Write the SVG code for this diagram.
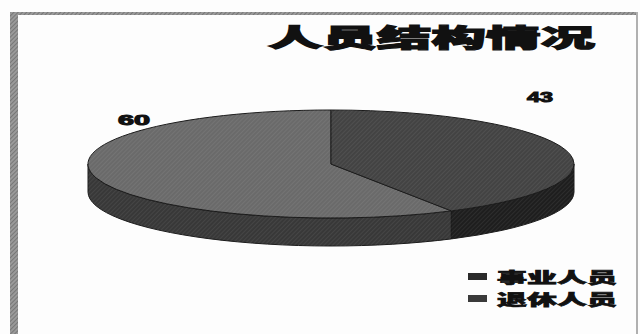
<svg xmlns="http://www.w3.org/2000/svg" width="640" height="334" viewBox="0 0 640 334">
<defs>
<pattern id="hatch" width="3" height="3" patternUnits="userSpaceOnUse" patternTransform="rotate(45)">
<line x1="0" y1="0" x2="0" y2="3" stroke="#ffffff" stroke-opacity="0.13" stroke-width="1"/>
</pattern>
<pattern id="hatchFrame" width="3" height="3" patternUnits="userSpaceOnUse" patternTransform="rotate(45)">
<rect width="3" height="3" fill="#9a9a9a"/>
<line x1="0" y1="0" x2="0" y2="3" stroke="#555" stroke-width="1"/>
</pattern>
</defs>
<style>
.title{font-family:"Noto Sans CJK SC","Noto Sans",sans-serif;font-weight:900;font-size:25px;fill:#111;stroke:#111;stroke-width:1.2px}
.leg{font-family:"Noto Sans CJK SC","Noto Sans",sans-serif;font-weight:900;font-size:15px;fill:#111;stroke:#111;stroke-width:0.7px}
.num{font-family:"Liberation Sans","DejaVu Sans",sans-serif;font-weight:bold;font-size:14px;fill:#111;stroke:#111;stroke-width:1px}
.edge{stroke:#1a1a1a;stroke-width:1}
</style>
<rect width="640" height="334" fill="#fdfdfd"/>
<g id="frame">
<rect x="10" y="12" width="8" height="322" fill="url(#hatchFrame)"/>
<rect x="10" y="12" width="628" height="3" fill="url(#hatchFrame)"/>
<rect x="636" y="12" width="2" height="322" fill="#b0b0b0"/>
</g>
<g id="title">
<text class="title" x="268" y="47" textLength="327" lengthAdjust="spacingAndGlyphs">人员结构情况</text>
</g>
<g id="pie">
<path class="edge" d="M451.4,210.9 A243,54 0 0 1 88,164 L88,192 A243,54 0 0 0 451.4,238.9 Z" fill="#383838"/>
<path class="edge" d="M574,164 A243,54 0 0 1 451.4,210.9 L451.4,238.9 A243,54 0 0 0 574,192 Z" fill="#1e1e1e"/>
<path d="M451.4,210.9 A243,54 0 0 1 88,164 L88,192 A243,54 0 0 0 451.4,238.9 Z" fill="url(#hatch)"/>
<path d="M574,164 A243,54 0 0 1 451.4,210.9 L451.4,238.9 A243,54 0 0 0 574,192 Z" fill="url(#hatch)"/>
<g id="slice-60">
<path class="edge" d="M331,164 L451.4,210.9 A243,54 0 1 1 331,110 Z" fill="#6a6a6a"/>
<path d="M331,164 L451.4,210.9 A243,54 0 1 1 331,110 Z" fill="url(#hatch)"/>
</g>
<g id="slice-43">
<path class="edge" d="M331,164 L331,110 A243,54 0 0 1 451.4,210.9 Z" fill="#434343"/>
<path d="M331,164 L331,110 A243,54 0 0 1 451.4,210.9 Z" fill="url(#hatch)"/>
</g>
</g>
<g id="labels">
<text class="num" x="118" y="125" textLength="32" lengthAdjust="spacingAndGlyphs">60</text>
<text class="num" x="527" y="102" textLength="26" lengthAdjust="spacingAndGlyphs">43</text>
</g>
<g id="legend">
<rect x="468" y="273" width="19" height="7" fill="#2a2a2a"/>
<text class="leg" x="497" y="283" textLength="120" lengthAdjust="spacingAndGlyphs">事业人员</text>
<rect x="468" y="295" width="19" height="7" fill="#3a3a3a"/>
<text class="leg" x="497" y="305" textLength="120" lengthAdjust="spacingAndGlyphs">退休人员</text>
</g>
</svg>
